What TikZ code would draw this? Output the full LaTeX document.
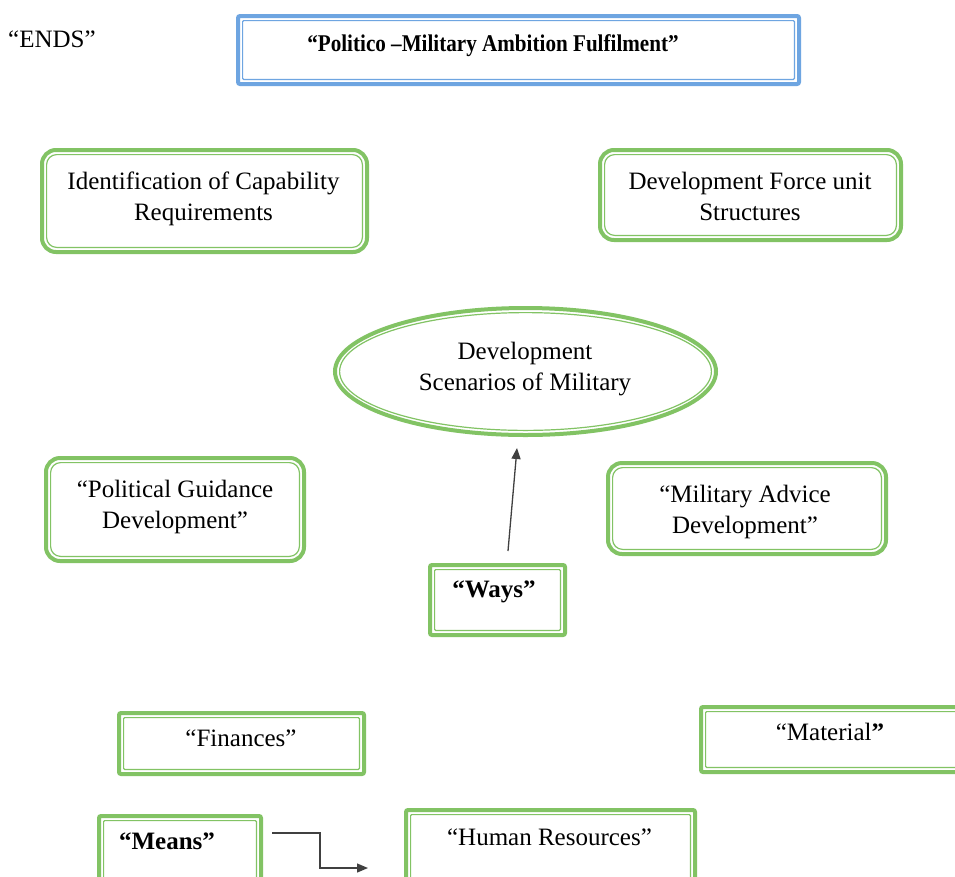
\documentclass[tikz,border=0pt]{standalone}
\usepackage{fontspec}
\setmainfont{Liberation Serif}
\usetikzlibrary{shapes.geometric,arrows.meta,calc}
\definecolor{grn}{RGB}{130,195,100}
\definecolor{blu}{RGB}{110,165,225}
\definecolor{conncol}{RGB}{64,64,64}
\newcommand\innerframe[3]{\draw[#3, line width=1.2pt, rounded corners=#2] ($(#1.south west)+(4.6pt,4.6pt)$) rectangle ($(#1.north east)+(-4.6pt,-4.6pt)$);}
\tikzset{
  frame/.style={draw=grn, line width=4pt, inner sep=0pt, outer sep=0pt},
  rbox/.style={frame, rounded corners=14pt},
  sbox/.style={frame, rounded corners=2pt},
  txt/.style={font=\fontsize{25}{31}\selectfont, align=center, inner sep=0pt},
  conn/.style={draw=conncol, line width=1.3pt, -{Triangle[length=11pt,width=9pt]}}
}
\begin{document}
\begin{tikzpicture}[x=1pt,y=-1pt]
\fill[white] (0,0) rectangle (955,876);
\useasboundingbox (0,0) rectangle (955,876);

% ENDS label
\node[txt, anchor=base west] (ends) at (8,47) {“ENDS”};

% top box
\node[sbox, draw=blu, minimum width=561pt, minimum height=68pt] (top) at (518.5,50) {};
\innerframe{top}{1pt}{blu}
\node[txt, anchor=base] (top-t) at (493,51) {\scalebox{0.88}[1]{\fontsize{24}{30}\selectfont\bfseries “Politico –Military Ambition Fulfilment”}};

% capability requirements
\node[rbox, minimum width=325pt, minimum height=102pt] (ident) at (204.5,201) {};
\innerframe{ident}{10pt}{grn}
\node[txt] (ident-t) at (203.5,199) {Identification of Capability\\Requirements};

% force unit structures
\node[rbox, minimum width=301pt, minimum height=90pt] (force) at (750.5,195) {};
\innerframe{force}{10pt}{grn}
\node[txt] (force-t) at (750,196.5) {Development Force unit\\Structures};

% scenarios ellipse
\node[ellipse, frame, minimum width=381pt, minimum height=127pt] (scen) at (525.5,371.5) {};
\draw[grn, line width=1.2pt] (scen.center) ellipse [x radius=185.9pt, y radius=58.9pt];
\node[txt] (scen-t) at (525,369) {Development\\Scenarios of Military};

% political guidance
\node[rbox, minimum width=258pt, minimum height=103pt] (polit) at (175,509.5) {};
\innerframe{polit}{10pt}{grn}
\node[txt] (polit-t) at (175,507) {“Political Guidance\\Development”};

% military advice
\node[rbox, minimum width=278pt, minimum height=91pt] (milit) at (747,508.5) {};
\innerframe{milit}{10pt}{grn}
\node[txt] (milit-t) at (745,512) {“Military Advice\\Development”};

% ways
\node[sbox, minimum width=135pt, minimum height=70pt] (ways) at (497.5,600) {};
\innerframe{ways}{1pt}{grn}
\node[txt, anchor=base] (ways-t) at (494,597) {\bfseries “Ways”};

% finances
\node[sbox, minimum width=245pt, minimum height=61pt] (fin) at (241.5,743.5) {};
\innerframe{fin}{1pt}{grn}
\node[txt, anchor=base] (fin-t) at (241,746) {“Finances”};

% material
\node[sbox, minimum width=264pt, minimum height=65pt] (mat) at (833,739.5) {};
\innerframe{mat}{1pt}{grn}
\node[txt, anchor=base] (mat-t) at (830,740) {“Material\textbf{”}};

% means
\node[sbox, minimum width=162pt, minimum height=69pt] (means) at (180,850.5) {};
\innerframe{means}{1pt}{grn}
\node[txt, anchor=base] (means-t) at (167,849) {\bfseries “Means”};

% human resources
\node[sbox, minimum width=289pt, minimum height=75pt] (hr) at (550.5,847.5) {};
\innerframe{hr}{1pt}{grn}
\node[txt, anchor=base] (hr-t) at (549.5,845) {“Human Resources”};

% connectors
\draw[conn] ($(ways.north)+(10.5pt,14pt)$) -- ($(scen.south)+(-8.5pt,-13pt)$);
\draw[conn] ($(means.north east)+(11pt,-17pt)$) -- ++(48,0) |- ($(hr.north west)+(-38pt,-58pt)$);
\end{tikzpicture}
\end{document}
